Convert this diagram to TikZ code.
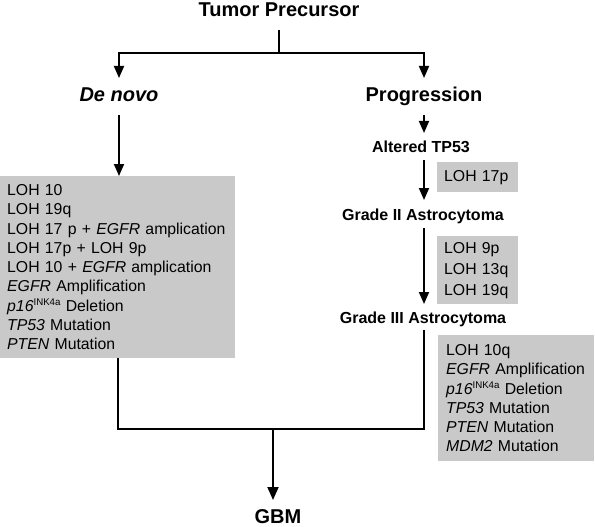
\documentclass[tikz,border=0pt]{standalone}
\usepackage{fontspec}
\setmainfont{Liberation Sans}
\usetikzlibrary{arrows.meta}
\definecolor{boxgray}{RGB}{201,201,201}
\newcommand{\inksup}{\raisebox{6pt}{\fontsize{9.7}{10}\selectfont INK4a}}
\begin{document}
\begin{tikzpicture}[x=1pt,y=-1pt,
 ln/.style={line width=1.8pt},
 arr/.style={ln,-{Triangle[width=10pt,length=12pt]}},
 head/.style={font=\fontsize{20}{24}\selectfont\bfseries, inner sep=0pt, anchor=base},
 sub/.style={font=\fontsize{16}{19}\selectfont\bfseries, inner sep=0pt, anchor=base},
 gbox/.style={fill=boxgray, anchor=north west, align=left, inner xsep=7pt, inner ysep=0pt, font=\fontsize{15.8}{19.25}\selectfont}]
\useasboundingbox (0,0) rectangle (595,527);

\node[head] (tp) at (279,17) {Tumor Precursor};
\node[head] (dn) at (119,102) {\itshape De novo};
\node[head] (pr) at (424,102) {Progression};
\node[sub] (at) at (421,153) {Altered TP53};
\node[sub] (g2) at (423,220) {Grade II Astrocytoma};
\node[sub] (g3) at (423,323) {Grade III Astrocytoma};
\node[head] (gbm) at (278,523) {GBM};

\node[gbox, minimum width=235pt, minimum height=182pt, text width=221pt] (lb) at (0,176)
 {LOH 10\\LOH 19q\\LOH 17 p + \textit{EGFR} amplication\\LOH 17p + LOH 9p\\LOH 10 + \textit{EGFR} amplication\\\textit{EGFR} Amplification\\\textit{p16}\inksup{} Deletion\\\textit{TP53} Mutation\\\textit{PTEN} Mutation};
\node[gbox, minimum width=81pt, minimum height=30pt, text width=67pt] (b1) at (437,162) {LOH 17p};
\node[gbox, minimum width=81pt, minimum height=68pt, text width=67pt, font=\fontsize{15.8}{21}\selectfont] (b2) at (437,236) {LOH 9p\\LOH 13q\\LOH 19q};
\node[gbox, inner xsep=8pt, minimum width=156pt, minimum height=126pt, text width=140pt] (b3) at (438,335)
 {LOH 10q\\\textit{EGFR} Amplification\\\textit{p16}\inksup{} Deletion\\\textit{TP53} Mutation\\\textit{PTEN} Mutation\\\textit{MDM2} Mutation};

\coordinate (split) at (279,53);
\coordinate (jr) at (424,429);
\coordinate (jm) at (273,429);

\draw[ln, shorten <=13pt] (tp.base) -- (split);
\draw[arr, shorten >=24pt] (split) -| (dn.base);
\draw[arr, shorten >=24pt] (split) -| (pr.base);
\draw[arr, shorten <=13pt] (dn.base) -- (dn.base |- lb.north);
\draw[arr, shorten <=13pt, shorten >=20pt] (pr.base) -- (pr.base |- at.base);
\draw[arr, shorten <=7pt, shorten >=20pt] (pr.base |- at.base) -- (pr.base |- g2.base);
\draw[arr, shorten <=8pt, shorten >=19pt] (pr.base |- g2.base) -- (pr.base |- g3.base);
\draw[ln, shorten >=7pt] (lb.south) |- (jr) -- (jr |- g3.base);
\draw[ln, -{Triangle[width=11pt,length=13pt]}, shorten >=23pt] (jm) -- (jm |- gbm.base);
\end{tikzpicture}
\end{document}
